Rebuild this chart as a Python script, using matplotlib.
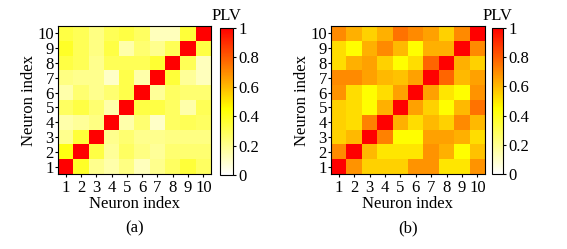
import numpy as np
import matplotlib.pyplot as plt
from matplotlib.colors import LinearSegmentedColormap
from matplotlib.ticker import FuncFormatter

plt.rcParams['font.family'] = ['Liberation Serif', 'DejaVu Serif']

neurons = list(range(1, 11))

# PLV matrices, rows listed from neuron 10 (top) down to neuron 1 (bottom)
plv_a = [
    [0.33, 0.30, 0.22, 0.30, 0.33, 0.28, 0.12, 0.12, 0.35, 1.00],
    [0.38, 0.30, 0.22, 0.33, 0.15, 0.25, 0.20, 0.30, 1.00, 0.33],
    [0.33, 0.30, 0.20, 0.30, 0.30, 0.30, 0.36, 1.00, 0.30, 0.12],
    [0.22, 0.20, 0.20, 0.10, 0.32, 0.15, 1.00, 0.35, 0.18, 0.12],
    [0.15, 0.25, 0.20, 0.25, 0.32, 1.00, 0.18, 0.28, 0.25, 0.25],
    [0.28, 0.33, 0.25, 0.15, 1.00, 0.33, 0.33, 0.28, 0.15, 0.30],
    [0.15, 0.18, 0.22, 1.00, 0.15, 0.25, 0.10, 0.28, 0.30, 0.28],
    [0.20, 0.35, 1.00, 0.20, 0.25, 0.20, 0.20, 0.22, 0.22, 0.22],
    [0.42, 1.00, 0.33, 0.18, 0.28, 0.22, 0.18, 0.25, 0.25, 0.25],
    [1.00, 0.38, 0.20, 0.15, 0.22, 0.12, 0.20, 0.28, 0.35, 0.28],
]

plv_b = [
    [0.70, 0.62, 0.55, 0.62, 0.75, 0.70, 0.65, 0.55, 0.70, 1.00],
    [0.52, 0.45, 0.62, 0.70, 0.60, 0.45, 0.62, 0.62, 1.00, 0.70],
    [0.52, 0.62, 0.65, 0.55, 0.45, 0.52, 0.78, 1.00, 0.62, 0.55],
    [0.70, 0.70, 0.65, 0.60, 0.58, 0.65, 1.00, 0.78, 0.60, 0.65],
    [0.68, 0.52, 0.45, 0.52, 0.65, 1.00, 0.65, 0.50, 0.45, 0.68],
    [0.55, 0.52, 0.45, 0.62, 1.00, 0.65, 0.55, 0.45, 0.60, 0.75],
    [0.55, 0.52, 0.72, 1.00, 0.62, 0.52, 0.60, 0.55, 0.70, 0.60],
    [0.55, 0.60, 1.00, 0.72, 0.45, 0.45, 0.65, 0.65, 0.62, 0.52],
    [0.70, 1.00, 0.60, 0.50, 0.50, 0.50, 0.68, 0.62, 0.45, 0.58],
    [1.00, 0.68, 0.55, 0.55, 0.55, 0.68, 0.68, 0.50, 0.50, 0.68],
]

cmap = LinearSegmentedColormap.from_list(
    'plv', [(0.0, 'white'), (0.45, 'yellow'), (1.0, 'red')])

W, H = 567, 249
fig = plt.figure(figsize=(W / 100, H / 100), dpi=100)


def px_axes(x0, y0, x1, y1):
    return fig.add_axes([x0 / W, 1 - y1 / H, (x1 - x0) / W, (y1 - y0) / H])


panels = [
    (plv_a, (58, 26, 211, 174), (220, 28, 233, 175), '(a)'),
    (plv_b, (331, 26, 485, 174), (492, 28, 503, 174), '(b)'),
]

for data, box, cbox, tag in panels:
    ax = px_axes(*box)
    mat = np.array(data)[::-1]  # row 0 -> neuron 1
    im = ax.imshow(mat, cmap=cmap, vmin=0, vmax=1, origin='lower',
                   aspect='auto', interpolation='nearest',
                   extent=(0.5, 10.5, 0.5, 10.5))
    ax.set_xticks(neurons)
    ax.set_yticks(neurons)
    ax.tick_params(labelsize=12, length=2, pad=1)
    ax.tick_params(axis='x', pad=2)
    ax.set_xlabel('Neuron index', fontsize=12, labelpad=0)
    ax.set_ylabel('Neuron index', fontsize=12, labelpad=0)
    ax.text(0.5, -0.37, tag, transform=ax.transAxes, ha='center', va='center',
            fontsize=12)

    cax = px_axes(*cbox)
    cb = fig.colorbar(im, cax=cax)
    cb.set_ticks([0, 0.2, 0.4, 0.6, 0.8, 1.0])
    cb.ax.yaxis.set_major_formatter(FuncFormatter(lambda v, p: f'{v:g}'))
    cb.ax.tick_params(labelsize=12, length=2, pad=2)
    cb.outline.set_linewidth(0.8)
    cax.set_title('PLV', fontsize=12, pad=6)

fig.savefig('out.png', dpi=100)
